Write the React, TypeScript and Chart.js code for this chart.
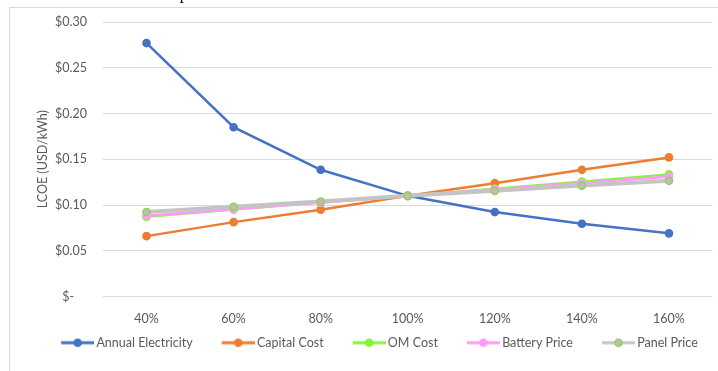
import React, { useEffect, useRef } from "react";
import { Chart, registerables } from "chart.js";

Chart.register(...registerables);

const categories = ["40%", "60%", "80%", "100%", "120%", "140%", "160%"];
const annualElectricity = [0.277, 0.185, 0.1385, 0.11, 0.0923, 0.0795, 0.069];
const capitalCost = [0.066, 0.0813, 0.0949, 0.11, 0.1238, 0.1385, 0.152];
const omCost = [0.087, 0.095, 0.103, 0.11, 0.118, 0.1255, 0.1335];
const batteryPrice = [0.088, 0.0955, 0.1025, 0.11, 0.117, 0.124, 0.131];
const panelPrice = [0.0923, 0.098, 0.1037, 0.11, 0.1155, 0.1212, 0.1265];
const yTickValues = [0, 0.05, 0.1, 0.15, 0.2, 0.25, 0.3];

const FONT = "Lato, 'Noto Sans', sans-serif";
const TEXT = "#595959";
const BOX = 54;
const ICON_W = 62;

function legendIcon(line: string, fill: string, border: string, lw: number): HTMLCanvasElement {
  const c = document.createElement("canvas");
  c.width = ICON_W;
  c.height = 10;
  const ctx = c.getContext("2d")!;
  ctx.strokeStyle = line;
  ctx.lineWidth = lw;
  ctx.beginPath();
  ctx.moveTo(ICON_W - 33, 5);
  ctx.lineTo(ICON_W, 5);
  ctx.stroke();
  ctx.beginPath();
  ctx.arc(ICON_W - 16.5, 5, 3.6, 0, Math.PI * 2);
  ctx.fillStyle = fill;
  ctx.fill();
  ctx.lineWidth = 1.5;
  ctx.strokeStyle = border;
  ctx.stroke();
  return c;
}

export default function App() {
  const ref = useRef<HTMLCanvasElement>(null);
  useEffect(() => {
    document.body.style.overflow = "hidden";
    const series = [
      { label: "Annual Electricity", data: annualElectricity, color: "#4472C4", fill: "#4472C4", border: "#4472C4", lw: 2.5, order: 4 },
      { label: "Capital Cost", data: capitalCost, color: "#ED7D31", fill: "#ED7D31", border: "#ED7D31", lw: 2.5, order: 3 },
      { label: "OM Cost", data: omCost, color: "#86F53A", fill: "#86F53A", border: "#86F53A", lw: 2.25, order: 2 },
      { label: "Battery Price", data: batteryPrice, color: "#FF9CF5", fill: "#FF9CF5", border: "#FF9CF5", lw: 2.75, order: 1 },
      { label: "Panel Price", data: panelPrice, color: "#C4C4C4", fill: "#BDBDBD", border: "#92D050", lw: 4, order: 0 },
    ];
    const chart = new Chart(ref.current!, {
      type: "line",
      data: {
        labels: categories,
        datasets: series.map((s) => ({
          label: s.label,
          data: s.data,
          borderColor: s.color,
          backgroundColor: s.fill,
          pointBackgroundColor: s.fill,
          pointBorderColor: s.border,
          pointBorderWidth: 1.5,
          pointRadius: 3.6,
          borderWidth: s.lw,
          order: s.order,
          tension: 0,
          pointStyle: "circle",
          _icon: legendIcon(s.color, s.fill, s.border, 3),
        })) as any,
      },
      options: {
        animation: false,
        responsive: false,
        maintainAspectRatio: false,
        layout: { padding: { top: 14, right: 4, left: 10, bottom: 12 } },
        plugins: {
          tooltip: { enabled: false },
          legend: {
            position: "bottom",
            labels: {
              usePointStyle: true,
              pointStyleWidth: BOX,
              padding: 4,
              color: TEXT,
              font: { family: FONT, size: 12.5 },
              sort: (a: any, b: any) => a.datasetIndex - b.datasetIndex,
              generateLabels: (ch: any) =>
                ch.data.datasets.map((d: any, i: number) => ({
                  text: d.label,
                  pointStyle: d._icon,
                  fillStyle: d.backgroundColor,
                  strokeStyle: d.borderColor,
                  lineWidth: 0,
                  hidden: false,
                  datasetIndex: i,
                  fontColor: TEXT,
                })),
            },
          },
        },
        scales: {
          x: {
            offset: true,
            grid: { display: false, drawTicks: false },
            border: { display: false },
            ticks: { color: TEXT, font: { family: FONT, size: 12.5 }, padding: 15 },
            afterFit: (s: any) => {
              s.height = 36;
            },
          },
          y: {
            min: 0,
            max: 0.3,
            afterBuildTicks: (s: any) => {
              s.ticks = yTickValues.map((v) => ({ value: v }));
            },
            grid: { color: "#D9D9D9", lineWidth: 1, drawTicks: false },
            border: { display: false },
            ticks: {
              color: TEXT,
              font: { family: FONT, size: 12.5 },
              padding: 16,
              callback: (v: any) => (Number(v) === 0 ? "$-    " : "$" + Number(v).toFixed(2)),
            },
            title: {
              display: true,
              text: "LCOE (USD/kWh)",
              color: TEXT,
              font: { family: FONT, size: 12.5 },
              padding: { top: 15, bottom: 0 },
            },
            afterFit: (s: any) => {
              s.width = 83;
              s.paddingTop = 0;
              s.paddingBottom = 0;
            },
          },
        },
      },
    });
    return () => chart.destroy();
  }, []);

  return (
    <div>
      <div
        style={{
          position: "fixed",
          left: 14,
          top: -15,
          fontFamily: "'Liberation Serif', 'Times New Roman', serif",
          fontSize: 16,
          color: "#000",
          whiteSpace: "nowrap",
        }}
      >
        ratio of the unit electrical production cost.
      </div>
      <div
        style={{
          position: "fixed",
          left: 9,
          top: 7,
          width: 709,
          height: 364,
          borderTop: "1px solid #D9D9D9",
          borderLeft: "1px solid #D9D9D9",
          background: "#fff",
        }}
      >
        <canvas ref={ref} width={708} height={363} style={{ display: "block" }} />
      </div>
    </div>
  );
}
